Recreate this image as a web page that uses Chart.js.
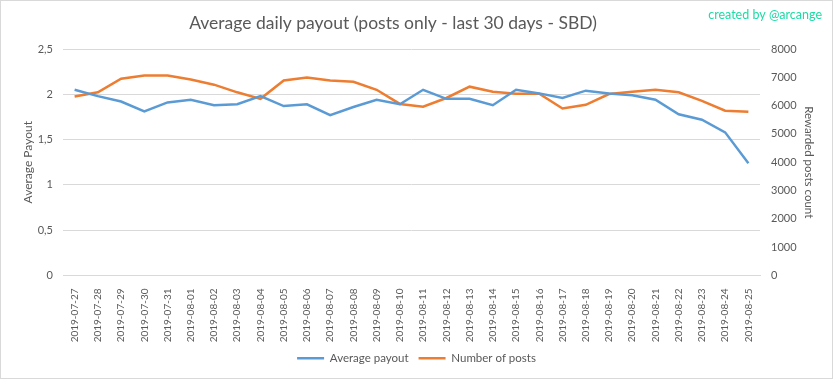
<!DOCTYPE html>
<html>
<head>
<meta charset="utf-8">
<script src="https://cdn.jsdelivr.net/npm/chart.js@4.4.1/dist/chart.umd.min.js"></script>
<style>
  html, body { margin: 0; padding: 0; background: #fff; }
  .wrap { position: relative; width: 833px; height: 379px; box-sizing: border-box; border: 1px solid #d9d9d9; }
  canvas { position: absolute; left: -1px; top: -1px; }
</style>
</head>
<body>
<div class="wrap"><canvas id="chart" width="833" height="379"></canvas></div>
<script>
const days = [
  '2019-07-27', '2019-07-28', '2019-07-29', '2019-07-30', '2019-07-31',
  '2019-08-01', '2019-08-02', '2019-08-03', '2019-08-04', '2019-08-05',
  '2019-08-06', '2019-08-07', '2019-08-08', '2019-08-09', '2019-08-10',
  '2019-08-11', '2019-08-12', '2019-08-13', '2019-08-14', '2019-08-15',
  '2019-08-16', '2019-08-17', '2019-08-18', '2019-08-19', '2019-08-20',
  '2019-08-21', '2019-08-22', '2019-08-23', '2019-08-24', '2019-08-25'
]
const avgPayout = [
  2.05, 1.98, 1.92, 1.81, 1.91, 1.94, 1.88, 1.89, 1.98, 1.87,
  1.89, 1.77, 1.86, 1.94, 1.89, 2.05, 1.95, 1.95, 1.88, 2.05,
  2.01, 1.96, 2.04, 2.01, 1.99, 1.94, 1.78, 1.72, 1.58, 1.24
]
const postCount = [
  6320, 6470, 6950, 7060, 7060, 6920, 6740, 6470, 6240, 6890,
  6990, 6890, 6840, 6560, 6060, 5960, 6270, 6670, 6490, 6420,
  6420, 5900, 6030, 6410, 6490, 6560, 6470, 6170, 5820, 5780
]
const leftTicks = { min: 0, max: 2.5, step: 0.5 }
const rightTicks = { min: 0, max: 8000, step: 1000 }

const titleText = 'Average daily payout (posts only - last 30 days - SBD)'
const creditText = 'created by @arcange'

const grey = '#595959'
const font = 'Lato'

// chart area edges
const area = { left: 63, right: 760, top: 49, bottom: 275 }

// title sits a bit left of centre in the original, so draw it here
const headerPlugin = {
  id: 'header',
  afterDraw(chart) {
    const ctx = chart.ctx
    ctx.save()
    ctx.textBaseline = 'middle'
    ctx.font = '17.5px ' + font
    ctx.fillStyle = grey
    ctx.textAlign = 'center'
    ctx.fillText(titleText, 393, 23)
    ctx.font = '12.5px ' + font
    ctx.fillStyle = '#1ddba6'
    ctx.textAlign = 'right'
    ctx.fillText(creditText, 822, 15)
    ctx.restore()
  }
}

Chart.defaults.font.family = font
Chart.defaults.color = grey

new Chart(document.getElementById('chart'), {
  type: 'line',
  data: {
    labels: days,
    datasets: [{
      label: 'Average payout',
      data: avgPayout,
      yAxisID: 'y',
      borderColor: '#5b9bd5',
      backgroundColor: '#5b9bd5',
      borderWidth: 2.5,
      pointRadius: 0,
      tension: 0
    }, {
      label: 'Number of posts',
      data: postCount,
      yAxisID: 'y1',
      borderColor: '#ed7d31',
      backgroundColor: '#ed7d31',
      borderWidth: 2.5,
      pointRadius: 0,
      tension: 0
    }]
  },
  options: {
    responsive: false,
    animation: false,
    layout: { padding: { left: 0, right: 0, top: area.top, bottom: 5 } },
    plugins: {
      title: { display: false },
      legend: {
        position: 'bottom',
        labels: {
          usePointStyle: true,
          pointStyle: 'line',
          pointStyleWidth: 27,
          color: grey,
          font: { size: 11.5 },
          padding: 10
        }
      },
      tooltip: { enabled: false }
    },
    scales: {
      x: {
        offset: true,
        grid: { display: false },
        border: { display: true, color: '#d9d9d9' },
        ticks: {
          autoSkip: false,
          minRotation: 90,
          maxRotation: 90,
          padding: 5,
          color: grey,
          font: { size: 10 }
        },
        afterFit(s) { s.height = 342 - area.bottom }
      },
      y: {
        position: 'left',
        min: leftTicks.min,
        max: leftTicks.max,
        grid: { color: '#d9d9d9', drawTicks: false },
        border: { display: false },
        ticks: {
          stepSize: leftTicks.step,
          padding: 10,
          color: grey,
          font: { size: 11 },
          callback: v => String(v).replace('.', ',')
        },
        title: {
          display: true,
          text: 'Average Payout',
          color: grey,
          font: { size: 12 },
          padding: { top: 21, bottom: 0 }
        },
        afterFit(s) { s.width = area.left }
      },
      y1: {
        position: 'right',
        min: rightTicks.min,
        max: rightTicks.max,
        grid: { display: false, drawTicks: false },
        border: { display: false },
        ticks: {
          stepSize: rightTicks.step,
          padding: 11,
          color: grey,
          font: { size: 11 },
          callback: v => String(v)
        },
        title: {
          display: true,
          text: 'Rewarded posts count',
          color: grey,
          font: { size: 11.5 },
          padding: { top: 17, bottom: 0 }
        },
        afterFit(s) { s.width = 833 - area.right }
      }
    }
  },
  plugins: [headerPlugin]
})
</script>
</body>
</html>
